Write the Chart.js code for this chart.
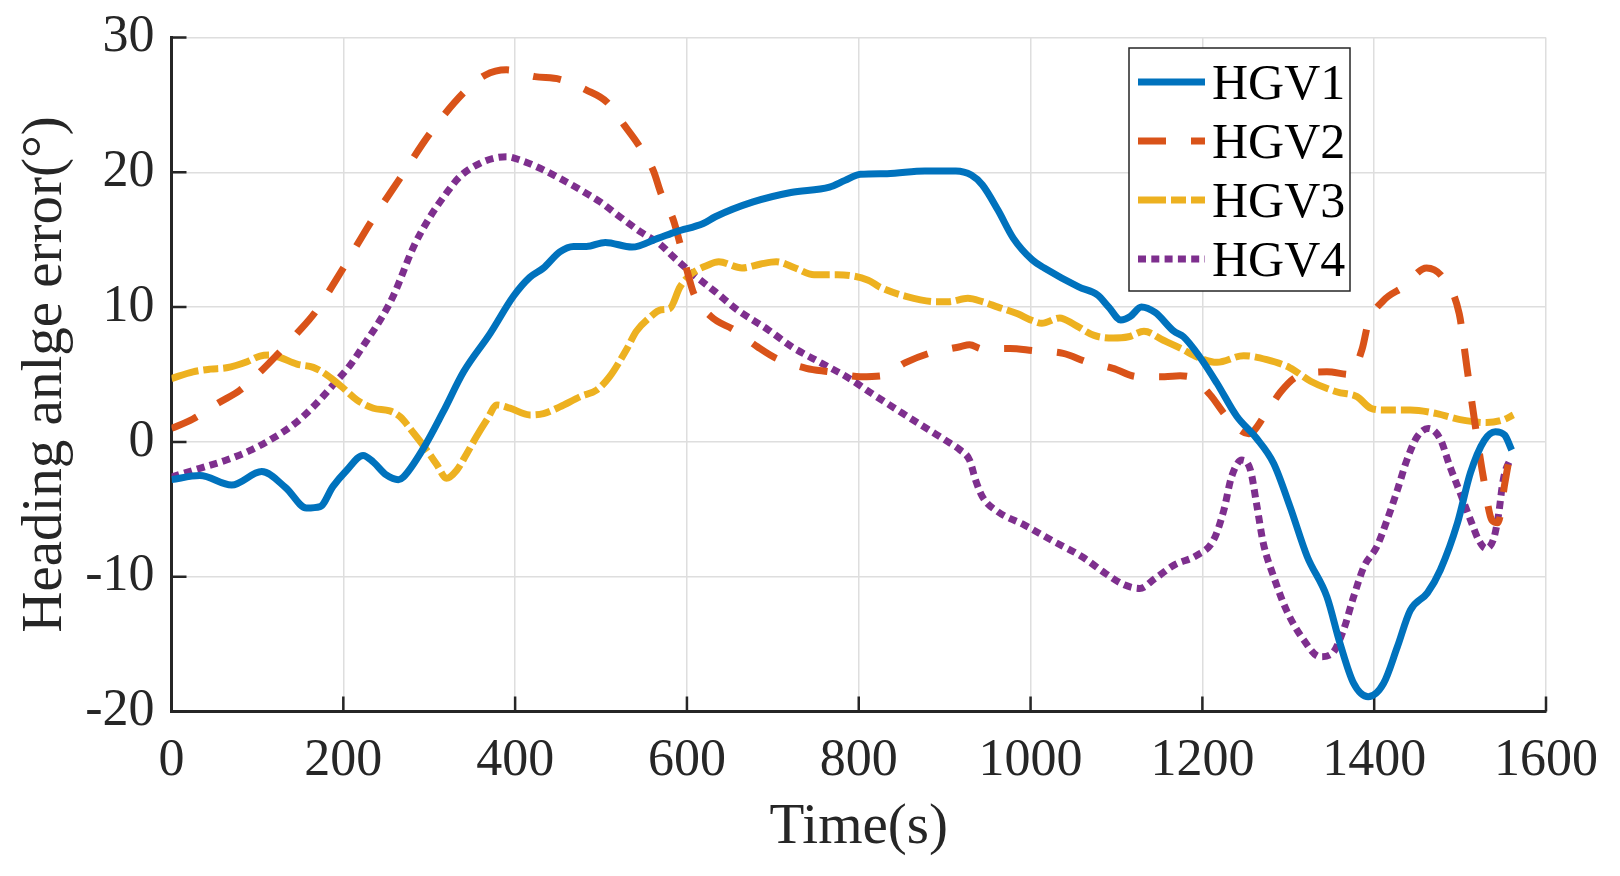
<!DOCTYPE html>
<html>
<head>
<meta charset="utf-8">
<script src="https://cdn.jsdelivr.net/npm/chart.js@4/dist/chart.umd.min.js"></script>
<style>
  html, body { margin: 0; padding: 0; background: #fff; }
  #wrap { width: 1620px; height: 876px; }
</style>
</head>
<body>
<div id="wrap"><canvas id="chart" width="1620" height="876"></canvas></div>
<script>
// time stamps (s) and heading angle error (deg)
var hgv1Time = [0,33,70,105,133,157,173,188,204,223,235,250,264,270,293,316,340,371,398,417,433,452,468,483,505,536,566,588,619,633,677,721,766,784,802,833,877,913,931,944,962,980,1002,1016,1056,1078,1091,1105,1116,1129,1145,1167,1178,1197,1217,1240,1263,1283,1302,1322,1345,1360,1376,1393,1411,1427,1442,1462,1477,1497,1512,1528,1541,1552,1560];
var hgv1Err = [-2.8,-2.5,-3.2,-2.2,-3.4,-4.9,-4.8,-3.3,-2.1,-1.0,-1.5,-2.45,-2.8,-2.6,-0.5,2.2,5.2,8.05,10.8,12.2,12.9,14.1,14.5,14.5,14.8,14.45,15.1,15.6,16.2,16.7,17.8,18.5,18.9,19.4,19.85,19.9,20.1,20.1,19.8,19.06,17.2,15.1,13.5,12.9,11.5,10.9,10.0,9.05,9.3,10.0,9.6,8.2,7.8,6.3,4.35,1.9,0.27,-1.6,-4.8,-8.5,-11.5,-14.9,-17.9,-18.9,-17.9,-15.2,-12.5,-11.2,-9.5,-6.0,-2.3,0.1,0.76,0.5,-0.6];

var hgv2Time = [0,25,55,80,105,122,146,167,200,231,266,301,340,365,390,423,452,483,507,527,544,561,570,584,592,601,608,628,655,682,704,739,766,802,826,855,882,918,929,944,976,1004,1038,1065,1096,1125,1156,1174,1187,1209,1228,1254,1273,1291,1310,1345,1372,1386,1393,1411,1434,1461,1481,1499,1508,1517,1527,1537,1544,1552,1557];
var hgv2Err = [1.0,1.7,2.9,3.85,5.3,6.4,8.05,9.6,12.9,16.2,19.55,22.9,25.9,27.2,27.6,27.1,26.9,26.1,25.2,23.5,22.0,20.1,18.4,16.5,14.7,12.5,11.0,9.3,8.3,7.06,6.2,5.46,5.2,4.84,4.9,5.9,6.57,7.06,7.2,6.9,6.93,6.76,6.57,5.95,5.46,4.84,4.84,4.9,4.8,3.5,1.9,0.6,2.0,3.7,4.84,5.2,5.0,6.9,8.8,10.5,11.5,12.9,12.1,9.5,5.5,1.5,-2.6,-5.8,-6.0,-3.1,-1.3];

var hgv3Time = [0,25,45,64,88,103,115,126,146,165,181,198,216,235,254,266,282,297,309,320,332,344,355,367,379,394,417,433,452,476,495,510,530,541,556,570,580,592,606,624,637,664,686,704,726,748,775,811,824,855,891,904,927,944,962,985,1002,1013,1034,1051,1074,1096,1114,1132,1154,1176,1194,1217,1248,1275,1302,1326,1357,1380,1396,1411,1442,1473,1500,1531,1550,1562];
var hgv3Err = [4.7,5.2,5.4,5.5,5.95,6.37,6.44,6.27,5.77,5.53,4.96,4.1,3.1,2.5,2.3,1.87,0.64,-0.6,-1.7,-2.7,-2.1,-0.84,0.4,1.63,2.74,2.5,2.0,2.1,2.6,3.36,3.85,4.84,6.9,8.2,9.2,9.8,9.9,11.5,12.5,13.1,13.36,12.9,13.2,13.36,12.9,12.4,12.4,12.0,11.5,10.8,10.4,10.4,10.65,10.4,10.0,9.5,9.0,8.8,9.2,8.7,7.9,7.7,7.8,8.2,7.56,6.9,6.3,5.9,6.4,6.1,5.5,4.5,3.7,3.36,2.5,2.37,2.37,2.1,1.65,1.43,1.63,2.0];

var hgv4Time = [0,33,64,91,118,144,167,188,208,225,243,258,282,301,320,336,359,375,390,406,429,452,476,499,523,548,568,584,606,633,659,695,722,757,789,815,851,882,904,918,929,936,944,962,993,1024,1060,1087,1109,1127,1145,1167,1194,1213,1225,1234,1246,1256,1263,1271,1283,1298,1318,1337,1351,1364,1376,1388,1403,1415,1427,1438,1450,1463,1477,1488,1499,1514,1521,1530,1539,1545,1549,1552,1558];
var hgv4Err = [-2.6,-1.96,-1.34,-0.65,0.27,1.38,2.74,4.22,5.7,7.3,9.05,10.8,14.5,16.7,18.45,19.7,20.67,21.04,21.16,20.9,20.3,19.55,18.7,17.8,16.65,15.5,14.7,13.74,12.5,11.14,9.78,8.3,7.06,5.83,4.71,3.6,2.12,0.88,0.0,-0.6,-1.35,-2.83,-4.07,-5.18,-6.17,-7.28,-8.52,-9.75,-10.6,-10.87,-10.13,-9.14,-8.4,-7.28,-5.06,-2.58,-1.35,-2.1,-4.57,-7.53,-10.0,-12.5,-14.7,-15.94,-15.7,-14.0,-11.5,-9.27,-7.78,-5.8,-3.57,-1.35,0.38,1.0,0.2,-1.8,-3.6,-6.1,-7.2,-7.9,-7.2,-5.3,-3.3,-2.3,-1.35];

var seriesNames = ['HGV1', 'HGV2', 'HGV3', 'HGV4'];

var serif = '"Liberation Serif", "Times New Roman", serif';
var axisColor = '#262626';

function toPoints(ts, vs) {
    return ts.map(function (t, i) { return { x: t, y: vs[i] }; });
}

function lineSet(label, ts, vs, color, dash) {
    return {
        label: label,
        data: toPoints(ts, vs),
        borderColor: color,
        backgroundColor: color,
        borderWidth: 7,
        borderDash: dash,
        borderCapStyle: 'butt',
        pointRadius: 0,
        fill: false,
        cubicInterpolationMode: 'monotone'
    };
}

// ticks drawn inside the axes, matlab style
var innerTicks = {
    id: 'innerTicks',
    beforeDatasetsDraw: function (chart) {
        var ctx = chart.ctx, area = chart.chartArea;
        var x = chart.scales.x, y = chart.scales.y;
        ctx.save();
        ctx.strokeStyle = axisColor;
        ctx.lineWidth = 2.5;
        ctx.beginPath();
        x.ticks.forEach(function (t) {
            var px = x.getPixelForValue(t.value);
            ctx.moveTo(px, area.bottom);
            ctx.lineTo(px, area.bottom - 15);
        });
        y.ticks.forEach(function (t) {
            var py = y.getPixelForValue(t.value);
            ctx.moveTo(area.left, py);
            ctx.lineTo(area.left + 15, py);
        });
        ctx.stroke();
        ctx.restore();
    }
};

// boxed legend in the upper right of the axes
var boxLegend = {
    id: 'boxLegend',
    afterDraw: function (chart) {
        var ctx = chart.ctx;
        var left = 1129, top = 48, w = 221, h = 243;
        ctx.save();
        ctx.fillStyle = '#fff';
        ctx.fillRect(left, top, w, h);
        ctx.strokeStyle = axisColor;
        ctx.lineWidth = 1.5;
        ctx.strokeRect(left, top, w, h);
        chart.data.datasets.forEach(function (ds, i) {
            var cy = 82 + i * 59;
            ctx.strokeStyle = ds.borderColor;
            ctx.lineWidth = ds.borderWidth;
            ctx.lineCap = 'butt';
            ctx.setLineDash(ds.borderDash || []);
            ctx.beginPath();
            ctx.moveTo(left + 9, cy);
            ctx.lineTo(left + 76, cy);
            ctx.stroke();
            ctx.setLineDash([]);
            ctx.fillStyle = '#000';
            ctx.font = '50px ' + serif;
            ctx.textBaseline = 'alphabetic';
            ctx.textAlign = 'left';
            ctx.fillText(ds.label, left + 83, cy + 17);
        });
        ctx.restore();
    }
};

var ctx = document.getElementById('chart').getContext('2d');
new Chart(ctx, {
    type: 'line',
    data: {
        datasets: [
            lineSet(seriesNames[0], hgv1Time, hgv1Err, '#0072BD', []),
            lineSet(seriesNames[1], hgv2Time, hgv2Err, '#D95319', [28, 25]),
            lineSet(seriesNames[2], hgv3Time, hgv3Err, '#EDB120', [28, 5, 15, 5]),
            lineSet(seriesNames[3], hgv4Time, hgv4Err, '#7E2F8E', [8, 5.3])
        ]
    },
    options: {
        responsive: false,
        animation: false,
        layout: { padding: { top: 37.5, right: 74, bottom: 0, left: 0 } },
        plugins: {
            legend: { display: false },
            tooltip: { enabled: false }
        },
        scales: {
            x: {
                type: 'linear',
                min: 0,
                max: 1600,
                afterFit: function (s) { s.height = 164.5; },
                ticks: {
                    stepSize: 200,
                    color: axisColor,
                    padding: 19,
                    maxRotation: 0,
                    font: { family: serif, size: 52 },
                    callback: function (v) { return String(v); }
                },
                grid: { color: '#dedede', lineWidth: 1.5, drawTicks: false },
                border: { color: axisColor, width: 3 },
                title: {
                    display: true,
                    text: 'Time(s)',
                    color: axisColor,
                    font: { family: serif, size: 57, lineHeight: 1.2 },
                    padding: { top: 0, bottom: 14 }
                }
            },
            y: {
                min: -20,
                max: 30,
                afterFit: function (s) {
                    s.width = 171.5;
                    s.paddingTop = 0;
                    s.paddingBottom = 0;
                },
                ticks: {
                    stepSize: 10,
                    color: axisColor,
                    padding: 17,
                    font: { family: serif, size: 52 }
                },
                grid: { color: '#dedede', lineWidth: 1.5, drawTicks: false },
                border: { color: axisColor, width: 3 },
                title: {
                    display: true,
                    text: 'Heading anlge error(°)',
                    color: axisColor,
                    font: { family: serif, size: 57, lineHeight: 1.2 },
                    padding: { top: 12, bottom: 0 }
                }
            }
        }
    },
    plugins: [innerTicks, boxLegend]
});
</script>
</body>
</html>
